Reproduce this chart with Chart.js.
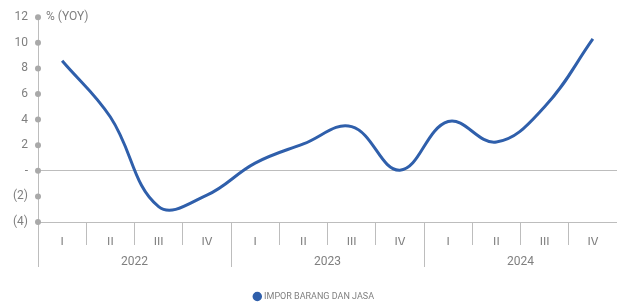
<!DOCTYPE html>
<html>
<head>
<meta charset="utf-8">
<script src="https://cdn.jsdelivr.net/npm/chart.js@4/dist/chart.umd.min.js"></script>
<style>
  html, body { margin: 0; padding: 0; background: #fff; }
  #wrap { width: 617px; height: 303px; }
</style>
</head>
<body>
<div id="wrap"><canvas id="c"></canvas></div>
<script>
var quarters = ['I', 'II', 'III', 'IV', 'I', 'II', 'III', 'IV', 'I', 'II', 'III', 'IV'];
var years = ['2022', '2023', '2024'];
var imporValues = [8.6, 4.2, -2.8, -1.9, 0.6, 2.1, 3.45, 0.05, 3.85, 2.25, 5.0, 10.3];
var yTicks = [12, 10, 8, 6, 4, 2, 0, -2, -4];

var grey = '#bdbdbd';
var textGrey = '#7f7f7f';
var fontName = 'Roboto';

// dots on the y axis + unit label
var axisDots = {
    id: 'axisDots',
    afterDraw: function (chart) {
        var ctx = chart.ctx;
        var y = chart.scales.y;
        ctx.save();
        ctx.fillStyle = '#a9a9a9';
        y.ticks.forEach(function (t) {
            ctx.beginPath();
            ctx.arc(y.right, y.getPixelForValue(t.value), 3, 0, Math.PI * 2);
            ctx.fill();
        });
        ctx.fillStyle = textGrey;
        ctx.font = '12px ' + fontName;
        ctx.textBaseline = 'middle';
        ctx.fillText('% (YOY)', y.right + 8, y.getPixelForValue(12));
        ctx.restore();
    }
};

new Chart(document.getElementById('c').getContext('2d'), {
    type: 'line',
    data: {
        labels: quarters,
        datasets: [{
            label: 'IMPOR BARANG DAN JASA',
            data: imporValues,
            borderColor: '#2f5fab',
            backgroundColor: '#2f5fab',
            borderWidth: 3,
            pointRadius: 0,
            tension: 0.4,
            fill: false
        }]
    },
    options: {
        responsive: true,
        maintainAspectRatio: false,
        animation: false,
        layout: { padding: { top: 17, right: 0, left: 12, bottom: -8 } },
        plugins: {
            legend: {
                position: 'bottom',
                labels: {
                    usePointStyle: true,
                    pointStyle: 'circle',
                    boxWidth: 4.6,
                    boxHeight: 4.6,
                    color: textGrey,
                    font: { family: fontName, size: 9 },
                    padding: 3
                }
            },
            tooltip: { enabled: false }
        },
        scales: {
            x: {
                type: 'category',
                offset: true,
                grid: { offset: true, drawOnChartArea: false, tickLength: 23, color: grey },
                border: { display: true, color: grey },
                ticks: { color: textGrey, font: { family: fontName, size: 12 }, padding: -9, maxRotation: 0, autoSkip: false },
                afterFit: function (s) { s.height = 23; }
            },
            x2: {
                type: 'category',
                position: 'bottom',
                labels: years,
                offset: true,
                grid: { offset: true, drawOnChartArea: false, tickLength: 22, color: grey },
                border: { display: false },
                ticks: { color: textGrey, font: { family: fontName, size: 12 }, padding: -12, maxRotation: 0 },
                afterFit: function (s) { s.height = 44; }
            },
            y: {
                min: -4,
                max: 12,
                afterBuildTicks: function (s) {
                    s.ticks = yTicks.map(function (v) { return { value: v }; });
                },
                grid: {
                    drawTicks: false,
                    color: function (c) { return c.tick && c.tick.value === 0 ? grey : 'rgba(0,0,0,0)'; }
                },
                border: { display: true, color: grey },
                ticks: {
                    color: textGrey,
                    font: { family: fontName, size: 12 },
                    padding: 10,
                    callback: function (v) {
                        if (v === 0) return '-';
                        if (v < 0) return '(' + Math.abs(v) + ')';
                        return v;
                    }
                },
                afterFit: function (s) { s.width = 26; }
            }
        }
    },
    plugins: [axisDots]
});
</script>
</body>
</html>
